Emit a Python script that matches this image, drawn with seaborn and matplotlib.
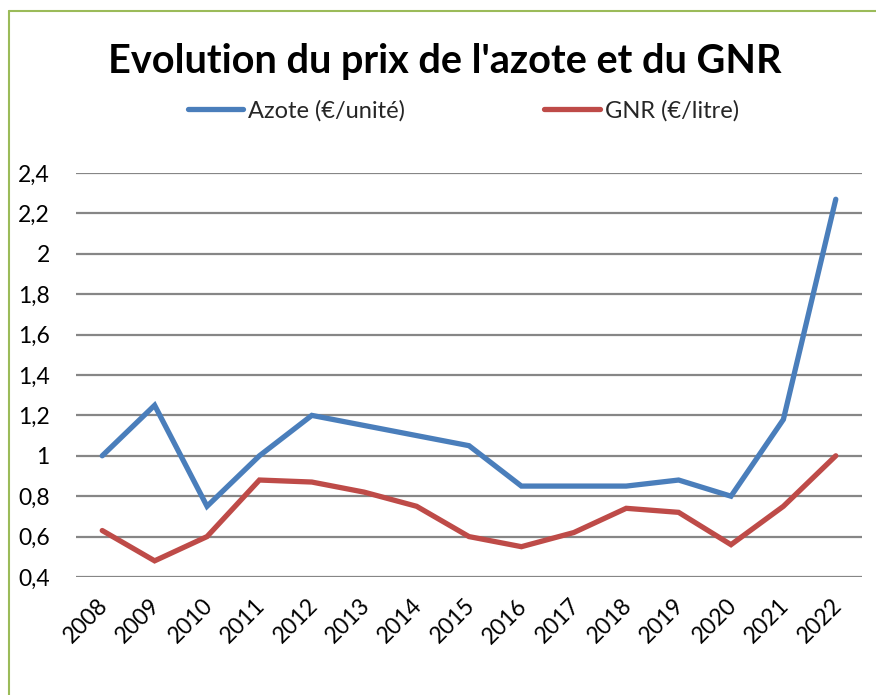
import pandas as pd
import seaborn as sns
import matplotlib.pyplot as plt
import matplotlib.transforms as mtransforms
from matplotlib.ticker import FuncFormatter, MultipleLocator
from matplotlib.lines import Line2D

years = [str(y) for y in range(2008, 2023)]
azote = [1.00, 1.25, 0.75, 1.00, 1.20, 1.15, 1.10, 1.05, 0.85, 0.85, 0.85, 0.88, 0.80, 1.18, 2.27]
gnr = [0.63, 0.48, 0.60, 0.88, 0.87, 0.82, 0.75, 0.60, 0.55, 0.62, 0.74, 0.72, 0.56, 0.75, 1.00]
series_names = ['Azote (€/unité)', 'GNR (€/litre)']

data = pd.DataFrame({
    'annee': years * 2,
    'prix': azote + gnr,
    'serie': [series_names[0]] * len(years) + [series_names[1]] * len(years),
})

sns.set_theme(style="white")
plt.rcParams['font.family'] = ['Lato', 'DejaVu Sans']

fig = plt.figure(figsize=(8.76, 6.95), dpi=100)
ax = fig.add_axes([0.0868, 0.1698, 0.8972, 0.5813])

palette = {series_names[0]: '#4a7ebb', series_names[1]: '#be4b48'}
sns.lineplot(data=data, x='annee', y='prix', hue='serie', palette=palette,
             linewidth=3.8, sort=False, ax=ax, legend=False)
for line in ax.lines:
    line.set_solid_capstyle('round')
    line.set_solid_joinstyle('miter')

ax.set_xlim(-0.5, len(years) - 0.5)
ax.set_ylim(0.4, 2.4)
ax.yaxis.set_major_locator(MultipleLocator(0.2))
ax.yaxis.set_major_formatter(FuncFormatter(lambda v, p: f'{v:g}'.replace('.', ',')))
ax.grid(axis='y', color='#868686', linewidth=1.6)
ax.set_axisbelow(True)
for s in ax.spines.values():
    s.set_visible(False)
ax.set_xlabel('')
ax.set_ylabel('')
ax.tick_params(axis='y', labelsize=16.5, pad=19, length=0, labelcolor='black')
ax.tick_params(axis='x', labelsize=16.5, pad=13, length=0, labelcolor='black')
shift = mtransforms.ScaledTranslation(-5 / 100, 0, fig.dpi_scale_trans)
for lbl in ax.get_xticklabels():
    lbl.set_rotation(45)
    lbl.set_ha('right')
    lbl.set_rotation_mode('anchor')
    lbl.set_transform(lbl.get_transform() + shift)

handles = [Line2D([0], [0], color=palette[n], linewidth=3.8, solid_capstyle='round') for n in series_names]
fig.legend(handles, series_names, loc='center', bbox_to_anchor=(0.529, 0.841), ncol=2,
           frameon=False, fontsize=17, handlelength=2.35, handletextpad=0.2, columnspacing=5.9)

fig.text(0.508, 0.911, "Evolution du prix de l'azote et du GNR", ha='center', va='center',
         fontsize=28.5, fontweight='bold', color='black')

# chart frame (cropped Excel border)
border = '#9bbb59'
fig.add_artist(Line2D([8.5 / 876, 8.5 / 876], [0, 1 - 10.5 / 695], color=border, linewidth=1.5))
fig.add_artist(Line2D([8.5 / 876, 1], [1 - 10.5 / 695, 1 - 10.5 / 695], color=border, linewidth=1.5))

fig.savefig('out.png', dpi=100)
